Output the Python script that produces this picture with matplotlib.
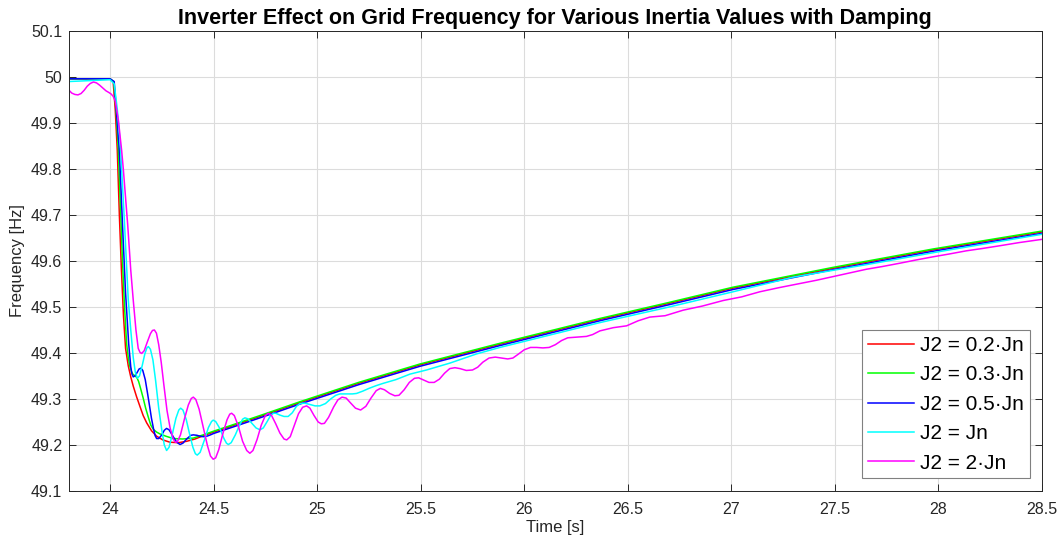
import matplotlib
matplotlib.use("Agg")
import matplotlib.pyplot as plt
from matplotlib.ticker import FormatStrFormatter, MultipleLocator

plt.rcParams['font.family'] = ['Liberation Sans', 'DejaVu Sans']

# frequency traces [s], [Hz]
t_02 = [23.80, 24.00, 24.015, 24.025, 24.035, 24.045, 24.055, 24.065, 24.075, 24.088,
        24.10, 24.112, 24.128, 24.145, 24.16, 24.177, 24.20, 24.225, 24.255, 24.289,
        24.33, 24.37, 24.41, 24.45, 24.5, 24.6, 24.75, 24.917, 25.2, 25.496,
        25.882, 26.043, 26.365, 26.7, 27.008, 27.49, 27.973, 28.5]
f_02 = [49.996, 49.996, 49.990, 49.930, 49.840, 49.700, 49.580, 49.480, 49.410, 49.372,
        49.348, 49.328, 49.305, 49.283, 49.264, 49.248, 49.231, 49.219, 49.211, 49.206,
        49.205, 49.208, 49.213, 49.220, 49.228, 49.243, 49.266, 49.292, 49.334, 49.374,
        49.419, 49.437, 49.473, 49.508, 49.541, 49.584, 49.624, 49.663]

t_03 = [23.80, 24.00, 24.018, 24.03, 24.04, 24.05, 24.06, 24.07, 24.08, 24.088,
        24.095, 24.103, 24.11, 24.12, 24.129, 24.138, 24.148, 24.16, 24.172, 24.185,
        24.197, 24.209, 24.225, 24.241, 24.27, 24.305, 24.35, 24.402, 24.45, 24.5,
        24.6, 24.75, 24.917, 25.2, 25.496, 25.882, 26.043, 26.365, 26.7, 27.008,
        27.49, 27.973, 28.5]
f_03 = [49.996, 49.996, 49.990, 49.920, 49.840, 49.720, 49.600, 49.500, 49.420, 49.390,
        49.372, 49.360, 49.354, 49.350, 49.347, 49.338, 49.322, 49.302, 49.280, 49.260,
        49.243, 49.234, 49.228, 49.224, 49.219, 49.214, 49.213, 49.215, 49.222, 49.230,
        49.245, 49.268, 49.294, 49.336, 49.376, 49.421, 49.439, 49.475, 49.510, 49.543,
        49.586, 49.626, 49.665]

t_05 = [23.80, 24.00, 24.02, 24.035, 24.045, 24.06, 24.075, 24.09, 24.10, 24.106,
        24.112, 24.12, 24.13, 24.14, 24.149, 24.158, 24.17, 24.18, 24.19, 24.20,
        24.21, 24.218, 24.225, 24.235, 24.25, 24.262, 24.273, 24.285, 24.305, 24.322,
        24.338, 24.352, 24.37, 24.39, 24.402, 24.42, 24.435, 24.45, 24.467, 24.485,
        24.5, 24.6, 24.75, 24.917, 25.2, 25.496, 25.882, 26.043, 26.365, 26.7,
        27.008, 27.49, 27.973, 28.5]
f_05 = [49.996, 49.996, 49.990, 49.900, 49.840, 49.680, 49.530, 49.420, 49.370, 49.354,
        49.348, 49.350, 49.357, 49.365, 49.367, 49.362, 49.342, 49.315, 49.287, 49.258,
        49.235, 49.220, 49.214, 49.214, 49.222, 49.232, 49.236, 49.233, 49.218, 49.206,
        49.201, 49.204, 49.213, 49.221, 49.222, 49.221, 49.219, 49.218, 49.219, 49.222,
        49.225, 49.240, 49.263, 49.289, 49.331, 49.371, 49.416, 49.434, 49.470, 49.505,
        49.538, 49.581, 49.621, 49.660]

t_1 = [23.80, 23.90, 24.00, 24.02, 24.035, 24.05, 24.07, 24.088, 24.10, 24.112,
       24.122, 24.132, 24.142, 24.155, 24.168, 24.178, 24.185, 24.195, 24.207, 24.22,
       24.235, 24.25, 24.262, 24.273, 24.285, 24.30, 24.318, 24.332, 24.341, 24.352,
       24.368, 24.385, 24.40, 24.412, 24.421, 24.435, 24.455, 24.475, 24.49, 24.498,
       24.51, 24.53, 24.55, 24.562, 24.571, 24.585, 24.605, 24.625, 24.64, 24.651,
       24.665, 24.685, 24.705, 24.724, 24.74, 24.76, 24.775, 24.788, 24.80, 24.82,
       24.84, 24.86, 24.88, 24.90, 24.917, 24.94, 24.965, 24.99, 25.013, 25.04,
       25.065, 25.09, 25.11, 25.14, 25.17, 25.19, 25.22, 25.25, 25.285, 25.319,
       25.38, 25.448, 25.528, 25.641, 25.77, 25.882, 26.043, 26.204, 26.365, 26.7,
       27.008, 27.3, 27.652, 28.0, 28.5]
f_1 = [49.990, 49.992, 49.994, 49.985, 49.930, 49.850, 49.680, 49.515, 49.450, 49.390,
       49.358, 49.345, 49.350, 49.372, 49.398, 49.411, 49.414, 49.408, 49.385, 49.340,
       49.280, 49.232, 49.200, 49.188, 49.195, 49.222, 49.258, 49.276, 49.280, 49.276,
       49.255, 49.222, 49.195, 49.181, 49.178, 49.184, 49.210, 49.238, 49.251, 49.254,
       49.251, 49.236, 49.214, 49.204, 49.201, 49.205, 49.222, 49.243, 49.256, 49.259,
       49.257, 49.247, 49.237, 49.233, 49.237, 49.252, 49.264, 49.269, 49.269, 49.265,
       49.262, 49.262, 49.270, 49.284, 49.290, 49.291, 49.288, 49.285, 49.285, 49.290,
       49.300, 49.308, 49.311, 49.311, 49.311, 49.312, 49.317, 49.323, 49.329, 49.334,
       49.342, 49.354, 49.363, 49.378, 49.398, 49.412, 49.430, 49.448, 49.466, 49.500,
       49.533, 49.565, 49.592, 49.620, 49.658]

t_2 = [23.80, 23.815, 23.83, 23.845, 23.86, 23.875, 23.89, 23.905, 23.92, 23.935,
       23.95, 23.965, 23.98, 23.995, 24.005, 24.015, 24.025, 24.04, 24.056, 24.064,
       24.085, 24.10, 24.112, 24.125, 24.136, 24.145, 24.153, 24.165, 24.18, 24.195,
       24.205, 24.214, 24.224, 24.235, 24.247, 24.26, 24.275, 24.29, 24.305, 24.315,
       24.325, 24.34, 24.36, 24.378, 24.392, 24.402, 24.414, 24.43, 24.45, 24.47,
       24.485, 24.498, 24.51, 24.525, 24.545, 24.565, 24.578, 24.587, 24.60, 24.62,
       24.64, 24.66, 24.675, 24.69, 24.71, 24.73, 24.75, 24.764, 24.78, 24.80,
       24.82, 24.84, 24.853, 24.87, 24.89, 24.91, 24.93, 24.949, 24.965, 24.985,
       25.005, 25.02, 25.035, 25.055, 25.08, 25.10, 25.12, 25.14, 25.16, 25.185,
       25.21, 25.235, 25.26, 25.285, 25.305, 25.325, 25.35, 25.375, 25.395, 25.42,
       25.445, 25.47, 25.49, 25.515, 25.54, 25.565, 25.59, 25.615, 25.64, 25.665,
       25.69, 25.72, 25.75, 25.775, 25.80, 25.83, 25.86, 25.89, 25.92, 25.945,
       25.97, 26.00, 26.03, 26.06, 26.09, 26.12, 26.15, 26.18, 26.21, 26.24,
       26.27, 26.30, 26.33, 26.365, 26.43, 26.494, 26.55, 26.606, 26.68, 26.767,
       26.86, 26.96, 27.05, 27.137, 27.23, 27.33, 27.41, 27.49, 27.57, 27.652,
       27.73, 27.812, 27.89, 27.973, 28.05, 28.134, 28.21, 28.295, 28.39, 28.5]
f_2 = [49.972, 49.965, 49.962, 49.961, 49.964, 49.971, 49.980, 49.986, 49.989, 49.987,
       49.982, 49.976, 49.970, 49.966, 49.963, 49.958, 49.948, 49.907, 49.840, 49.800,
       49.680, 49.580, 49.515, 49.450, 49.410, 49.401, 49.399, 49.405, 49.424, 49.442,
       49.449, 49.450, 49.443, 49.418, 49.380, 49.330, 49.275, 49.237, 49.213, 49.206,
       49.207, 49.222, 49.258, 49.287, 49.301, 49.304, 49.299, 49.278, 49.238, 49.199,
       49.176, 49.169, 49.172, 49.190, 49.225, 49.255, 49.267, 49.269, 49.264, 49.240,
       49.208, 49.188, 49.182, 49.188, 49.212, 49.243, 49.264, 49.269, 49.264, 49.246,
       49.226, 49.213, 49.211, 49.218, 49.243, 49.268, 49.282, 49.285, 49.280, 49.264,
       49.250, 49.246, 49.247, 49.260, 49.283, 49.298, 49.304, 49.302, 49.292, 49.280,
       49.276, 49.284, 49.302, 49.318, 49.323, 49.320, 49.312, 49.307, 49.308, 49.320,
       49.336, 49.345, 49.346, 49.341, 49.336, 49.336, 49.343, 49.356, 49.366, 49.368,
       49.366, 49.362, 49.363, 49.369, 49.380, 49.389, 49.391, 49.389, 49.387, 49.389,
       49.397, 49.407, 49.412, 49.412, 49.411, 49.412, 49.418, 49.427, 49.433, 49.434,
       49.435, 49.436, 49.440, 49.448, 49.455, 49.459, 49.470, 49.478, 49.481, 49.493,
       49.502, 49.514, 49.522, 49.533, 49.542, 49.551, 49.558, 49.566, 49.574, 49.582,
       49.588, 49.595, 49.602, 49.609, 49.615, 49.622, 49.627, 49.633, 49.640, 49.647]

series = [
    (t_02, f_02, 'r', 'J2 = 0.2·Jn'),
    (t_03, f_03, 'lime', 'J2 = 0.3·Jn'),
    (t_05, f_05, 'b', 'J2 = 0.5·Jn'),
    (t_1, f_1, 'cyan', 'J2 = Jn'),
    (t_2, f_2, 'magenta', 'J2 = 2·Jn'),
]

axcol = '#262626'

fig = plt.figure(figsize=(10.59, 5.43), dpi=100)
ax = fig.add_axes([0.0648, 0.0958, 0.9192, 0.8472])

for t, f, c, lab in series:
    ax.plot(t, f, color=c, lw=1.1, label=lab)

ax.set_xlim(23.8, 28.5)
ax.set_ylim(49.1, 50.1)
ax.xaxis.set_major_locator(MultipleLocator(0.5))
ax.yaxis.set_major_locator(MultipleLocator(0.1))
ax.xaxis.set_major_formatter(FormatStrFormatter('%g'))
ax.yaxis.set_major_formatter(FormatStrFormatter('%g'))
ax.grid(True, color='#dcdcdc', lw=0.8)
ax.set_axisbelow(True)
ax.tick_params(direction='in', top=True, right=True, length=5, width=0.7,
               colors=axcol, labelsize=11.5, labelcolor=axcol)
ax.tick_params(axis='x', pad=8)
ax.tick_params(axis='y', pad=4.5)
for sp in ax.spines.values():
    sp.set_color(axcol)
    sp.set_linewidth(0.7)

ax.set_xlabel('Time [s]', fontsize=12, color=axcol, labelpad=2)
ax.set_ylabel('Frequency [Hz]', fontsize=12, color=axcol)
ax.set_title('Inverter Effect on Grid Frequency for Various Inertia Values with Damping',
             fontsize=15.5, fontweight='bold', color='black', pad=5)

leg = ax.legend(loc='lower right', fontsize=15, handlelength=2.2, borderaxespad=0.6,
                fancybox=False, framealpha=1, edgecolor='#808080',
                labelspacing=0.5, handletextpad=0.3, borderpad=0.28)
leg.get_frame().set_linewidth(0.8)

fig.savefig('out.png', dpi=100)
